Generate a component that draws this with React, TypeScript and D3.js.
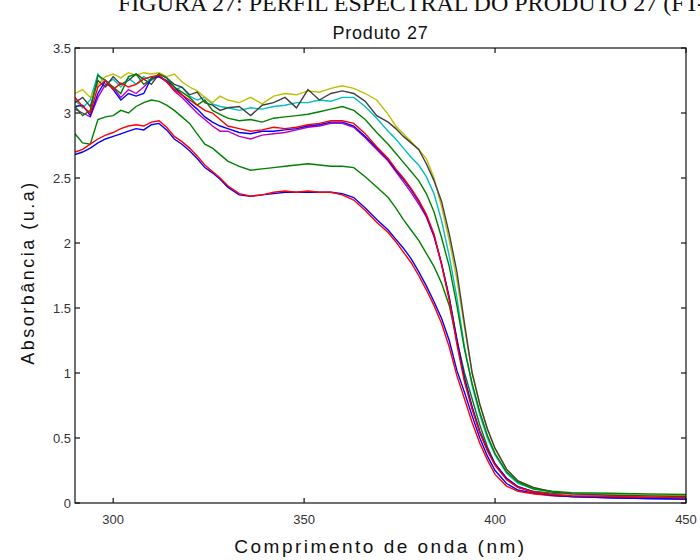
import React from 'react';
import * as d3 from 'd3';

const wavelengths = [
  290, 292, 294, 296, 298, 300, 302, 304, 306, 308, 310, 312, 314, 316, 318, 320, 322, 324, 326, 328, 330,
  333, 336, 339, 342, 345, 348, 351, 354, 357, 360, 363, 366, 369,
  372, 374, 376, 378, 380, 382, 384, 386, 388, 390, 392, 394, 396, 398, 400,
  403, 406, 410, 415, 420, 430, 440, 450,
];

const blue1 = [
  2.68, 2.70, 2.73, 2.77, 2.80, 2.82, 2.84, 2.86, 2.88, 2.87, 2.91, 2.92, 2.87, 2.80, 2.76, 2.71, 2.65, 2.58, 2.54, 2.49, 2.43,
  2.37, 2.36, 2.37, 2.38, 2.39, 2.39, 2.39, 2.39, 2.39, 2.38, 2.35, 2.27, 2.18,
  2.10, 2.03, 1.96, 1.88, 1.78, 1.67, 1.55, 1.42, 1.25, 1.02, 0.85, 0.67, 0.50, 0.36, 0.25,
  0.15, 0.10, 0.075, 0.06, 0.05, 0.04, 0.035, 0.03,
];
const green1 = [
  2.84, 2.77, 2.76, 2.95, 2.97, 2.98, 3.02, 3.00, 3.05, 3.08, 3.10, 3.09, 3.06, 3.02, 2.97, 2.92, 2.84, 2.76, 2.73, 2.68, 2.63,
  2.59, 2.56, 2.57, 2.58, 2.59, 2.60, 2.61, 2.60, 2.59, 2.59, 2.58, 2.51, 2.43,
  2.35, 2.27, 2.18, 2.10, 2.02, 1.92, 1.82, 1.69, 1.52, 1.25, 1.00, 0.80, 0.60, 0.43, 0.30,
  0.18, 0.12, 0.09, 0.075, 0.07, 0.065, 0.06, 0.055,
];
const red1 = [
  2.70, 2.72, 2.76, 2.80, 2.83, 2.85, 2.88, 2.90, 2.91, 2.90, 2.93, 2.94, 2.89, 2.82, 2.78, 2.73, 2.67, 2.60, 2.55, 2.50, 2.44,
  2.38, 2.36, 2.37, 2.39, 2.40, 2.39, 2.40, 2.39, 2.39, 2.37, 2.33, 2.25, 2.16,
  2.08, 2.01, 1.93, 1.85, 1.75, 1.64, 1.52, 1.38, 1.20, 0.98, 0.80, 0.62, 0.46, 0.33, 0.22,
  0.13, 0.09, 0.07, 0.055, 0.05, 0.045, 0.04, 0.04,
];
const cyan1 = [
  3.10, 3.04, 3.10, 3.30, 3.22, 3.26, 3.20, 3.27, 3.22, 3.28, 3.25, 3.29, 3.24, 3.18, 3.20, 3.13, 3.10, 3.12, 3.07, 3.05, 3.04,
  3.02, 3.04, 3.03, 3.05, 3.06, 3.08, 3.08, 3.10, 3.09, 3.12, 3.12, 3.05, 2.96,
  2.86, 2.80, 2.73, 2.66, 2.60, 2.51, 2.38, 2.17, 1.90, 1.58, 1.20, 0.90, 0.68, 0.50, 0.37,
  0.23, 0.15, 0.11, 0.085, 0.075, 0.065, 0.06, 0.055,
];
const magenta1 = [
  3.03, 3.00, 2.97, 3.12, 3.22, 3.20, 3.12, 3.18, 3.15, 3.20, 3.26, 3.28, 3.24, 3.17, 3.12, 3.06, 3.00, 2.95, 2.90, 2.86, 2.86,
  2.82, 2.80, 2.83, 2.84, 2.85, 2.87, 2.89, 2.90, 2.92, 2.92, 2.89, 2.81, 2.72,
  2.63, 2.55, 2.47, 2.39, 2.30, 2.20, 2.05, 1.84, 1.58, 1.25, 0.95, 0.73, 0.55, 0.41, 0.30,
  0.19, 0.125, 0.085, 0.065, 0.055, 0.05, 0.045, 0.04,
];
const yellow1 = [
  3.15, 3.18, 3.12, 3.22, 3.28, 3.30, 3.27, 3.31, 3.29, 3.31, 3.30, 3.31, 3.28, 3.30, 3.24, 3.20, 3.17, 3.12, 3.08, 3.13, 3.10,
  3.08, 3.12, 3.07, 3.13, 3.15, 3.14, 3.17, 3.16, 3.19, 3.21, 3.19, 3.15, 3.10,
  2.99, 2.90, 2.84, 2.78, 2.72, 2.65, 2.50, 2.28, 2.02, 1.72, 1.35, 1.00, 0.76, 0.57, 0.42,
  0.26, 0.17, 0.12, 0.085, 0.07, 0.065, 0.06, 0.06,
];
const black1 = [
  3.08, 3.12, 3.05, 3.25, 3.20, 3.28, 3.22, 3.25, 3.30, 3.26, 3.22, 3.30, 3.27, 3.22, 3.20, 3.14, 3.16, 3.08, 3.06, 3.02, 3.04,
  3.05, 2.98, 3.06, 3.08, 3.12, 3.04, 3.18, 3.10, 3.15, 3.17, 3.15, 3.09, 2.98,
  2.93, 2.88, 2.82, 2.77, 2.72, 2.61, 2.48, 2.32, 2.07, 1.78, 1.38, 1.00, 0.76, 0.57, 0.42,
  0.26, 0.17, 0.12, 0.085, 0.07, 0.06, 0.055, 0.05,
];
const blue2 = [
  3.05, 3.06, 2.98, 3.15, 3.25, 3.18, 3.10, 3.15, 3.13, 3.15, 3.27, 3.28, 3.25, 3.20, 3.14, 3.08, 3.03, 2.97, 2.93, 2.90, 2.88,
  2.85, 2.84, 2.86, 2.86, 2.87, 2.88, 2.90, 2.91, 2.93, 2.93, 2.90, 2.82, 2.73,
  2.64, 2.56, 2.49, 2.41, 2.32, 2.21, 2.06, 1.84, 1.58, 1.26, 0.96, 0.74, 0.55, 0.41, 0.30,
  0.19, 0.125, 0.085, 0.06, 0.05, 0.04, 0.035, 0.03,
];
const green2 = [
  3.05, 2.98, 3.02, 3.29, 3.25, 3.20, 3.15, 3.28, 3.30, 3.22, 3.26, 3.30, 3.27, 3.20, 3.16, 3.12, 3.06, 3.10, 3.02, 2.99, 2.96,
  2.94, 2.95, 2.93, 2.96, 2.97, 2.98, 2.99, 3.01, 3.03, 3.05, 3.02, 2.95, 2.85,
  2.76, 2.69, 2.62, 2.55, 2.48, 2.38, 2.24, 2.04, 1.82, 1.52, 1.18, 0.92, 0.70, 0.52, 0.38,
  0.24, 0.16, 0.11, 0.09, 0.08, 0.075, 0.07, 0.065,
];
const red2 = [
  3.12, 3.05, 3.00, 3.20, 3.25, 3.18, 3.23, 3.20, 3.22, 3.26, 3.28, 3.29, 3.24, 3.18, 3.14, 3.10, 3.06, 3.02, 3.00, 2.95, 2.90,
  2.88, 2.86, 2.87, 2.89, 2.88, 2.89, 2.91, 2.92, 2.94, 2.94, 2.92, 2.84, 2.74,
  2.65, 2.57, 2.50, 2.42, 2.33, 2.22, 2.07, 1.83, 1.56, 1.22, 0.93, 0.72, 0.54, 0.40, 0.29,
  0.18, 0.12, 0.085, 0.065, 0.055, 0.05, 0.045, 0.04,
];

const seriesList = [blue1, green1, red1, cyan1, magenta1, yellow1, black1, blue2, green2, red2];
const seriesColors = ['#0000ff', '#008000', '#ff0000', '#00bfbf', '#bf00bf', '#bfbf00', '#404040', '#0000ff', '#008000', '#ff0000'];

const xTicks = [300, 350, 400, 450];
const xTickLabels = ['300', '350', '400', '450'];
const yTicks = [0, 0.5, 1, 1.5, 2, 2.5, 3, 3.5];
const yTickLabels = ['0', '0.5', '1', '1.5', '2', '2.5', '3', '3.5'];

const headerText = 'FIGURA 27: PERFIL ESPECTRAL DO PRODUTO 27 (FT-IR)';
const titleText = 'Produto 27';
const xLabel = 'Comprimento de onda (nm)';
const yLabel = 'Absorbância (u.a)';

export default function App() {
  const W = 700, H = 560;
  const left = 75, right = 686, top = 48, bottom = 503;
  const x = d3.scaleLinear().domain([290, 450]).range([left, right]);
  const y = d3.scaleLinear().domain([0, 3.5]).range([bottom, top]);
  const line = d3.line<number>()
    .x((_, i) => x(wavelengths[i]))
    .y((d) => y(d));
  const tick = 5;
  const sans = 'Liberation Sans, Arial, sans-serif';

  return (
    <svg width={W} height={H} style={{ position: 'absolute', left: 0, top: 0, background: '#fff' }}>
      <rect x={0} y={0} width={W} height={H} fill="#fff" />
      <text x={118} y={11} fontFamily="Liberation Serif, Times New Roman, serif" fontSize={24} fill="#111">{headerText}</text>
      <text x={(left + right) / 2} y={39} textAnchor="middle" fontFamily={sans} fontSize={18} letterSpacing={0.8} fill="#111">{titleText}</text>

      <clipPath id="plotclip"><rect x={left} y={top} width={right - left} height={bottom - top} /></clipPath>
      <g clipPath="url(#plotclip)">
        {seriesList.map((s, i) => (
          <path key={i} d={line(s) || ''} fill="none" stroke={seriesColors[i]} strokeWidth={1.4} strokeLinejoin="miter" />
        ))}
      </g>

      <rect x={left} y={top} width={right - left} height={bottom - top} fill="none" stroke="#111" strokeWidth={1.2} />
      {xTicks.map((t, i) => (
        <g key={'x' + i}>
          <line x1={x(t)} x2={x(t)} y1={bottom} y2={bottom - tick} stroke="#111" strokeWidth={1.2} />
          <line x1={x(t)} x2={x(t)} y1={top} y2={top + tick} stroke="#111" strokeWidth={1.2} />
          <text x={x(t)} y={524} textAnchor="middle" fontFamily={sans} fontSize={13} fill="#333">{xTickLabels[i]}</text>
        </g>
      ))}
      {yTicks.map((t, i) => (
        <g key={'y' + i}>
          <line x1={left} x2={left + tick} y1={y(t)} y2={y(t)} stroke="#111" strokeWidth={1.2} />
          <line x1={right} x2={right - tick} y1={y(t)} y2={y(t)} stroke="#111" strokeWidth={1.2} />
          <text x={71} y={y(t) + 5} textAnchor="end" fontFamily={sans} fontSize={13} fill="#333">{yTickLabels[i]}</text>
        </g>
      ))}
      <text x={(left + right) / 2} y={553} textAnchor="middle" fontFamily={sans} fontSize={19} letterSpacing={2.5} fill="#111">{xLabel}</text>
      <text transform={`translate(34, ${(top + bottom) / 2 - 3}) rotate(-90)`} textAnchor="middle" fontFamily={sans} fontSize={18} letterSpacing={2.5} fill="#111">{yLabel}</text>
    </svg>
  );
}
